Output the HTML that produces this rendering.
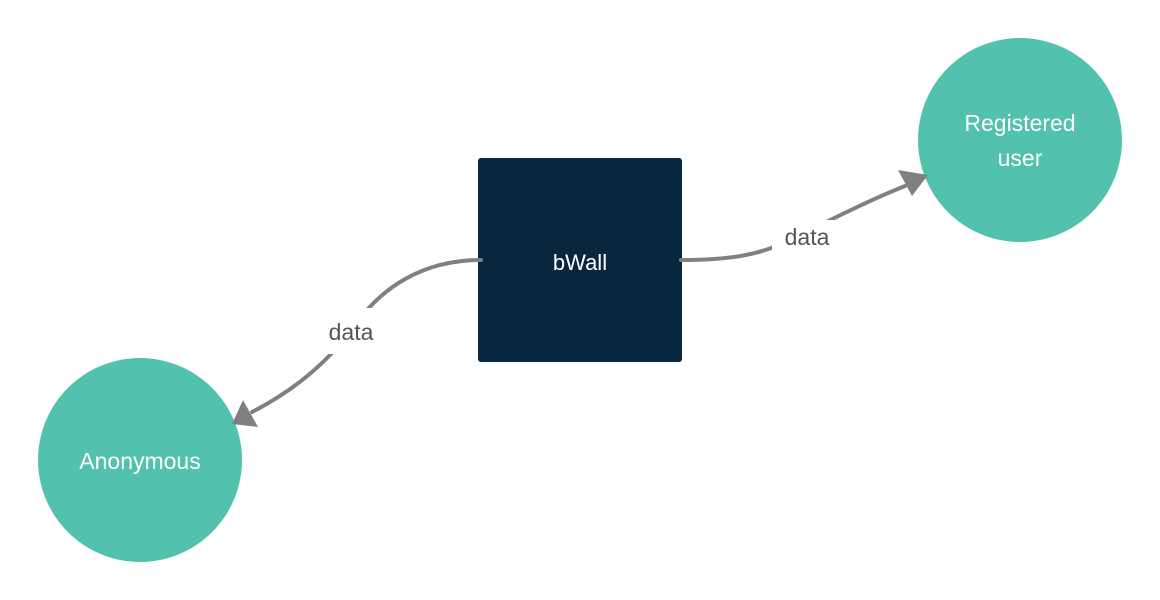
<!DOCTYPE html>
<html><head><meta charset="utf-8"><style>
html,body{margin:0;padding:0;background:#fff;}
svg{display:block}
text{font-family:"Liberation Sans",sans-serif;}
</style></head><body>
<svg width="1160" height="600" viewBox="0 0 1160 600" xmlns="http://www.w3.org/2000/svg">
<rect x="478" y="158" width="204" height="204" rx="3" fill="#08263d"/>
<text x="580" y="270" text-anchor="middle" font-size="22" fill="#fff">bWall</text>
<circle cx="1020" cy="140" r="102" fill="#52c1ad"/>
<text x="1020" y="131" text-anchor="middle" font-size="23" fill="#fff">Registered</text>
<text x="1020" y="166" text-anchor="middle" font-size="23" fill="#fff">user</text>
<circle cx="140" cy="460" r="102" fill="#52c1ad"/>
<text x="140" y="469" text-anchor="middle" font-size="23" fill="#fff">Anonymous</text>
<g fill="none" stroke="#808080" stroke-width="4" stroke-linecap="round">
<path d="M681,260 C730,260 760,255 790,240 C830,220 870,200 905,186"/>
<path d="M481,260 C420,260 380,290 355,325 C330,360 295,390 252,412"/>
</g>
<polygon points="928,175 898,170 912,196" fill="#808080"/>
<polygon points="232,424 243,400 258,427" fill="#808080"/>
<rect x="772" y="220" width="70" height="34" fill="#fff"/>
<text x="807" y="245" text-anchor="middle" font-size="23" fill="#555">data</text>
<rect x="316" y="308" width="70" height="46" fill="#fff"/>
<text x="351" y="340" text-anchor="middle" font-size="23" fill="#555">data</text>
</svg>
</body></html>
